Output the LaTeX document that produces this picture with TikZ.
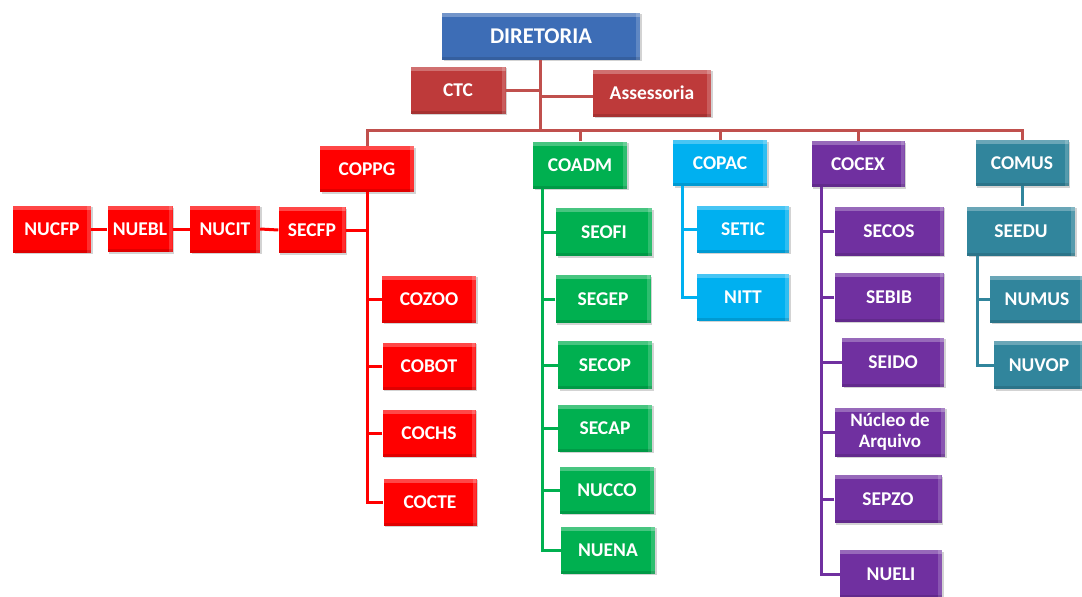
\documentclass[tikz,border=0pt]{standalone}
\usepackage{fontspec}
\setmainfont{Carlito}
\usetikzlibrary{shadows}
\definecolor{dirblue}{RGB}{61,109,182}
\definecolor{ctcred}{RGB}{190,58,58}
\definecolor{ctcline}{RGB}{192,80,77}
\definecolor{cred}{RGB}{255,0,0}
\definecolor{cgreen}{RGB}{0,176,80}
\definecolor{ccyan}{RGB}{0,176,240}
\definecolor{cpurple}{RGB}{112,48,160}
\definecolor{cteal}{RGB}{49,133,156}
\tikzset{
  box/.style={fill=#1, text=white, font=\bfseries\fontsize{19.5}{21}\selectfont,
    inner sep=0pt, align=center,
    drop shadow={opacity=0.35, shadow xshift=1.5pt, shadow yshift=-1.5pt},
    path picture={
      \fill[white,opacity=0.28] (path picture bounding box.north west) rectangle ([yshift=-4pt]path picture bounding box.north east);
      \fill[white,opacity=0.18] ([xshift=-4pt]path picture bounding box.north east) rectangle (path picture bounding box.south east);
      \fill[black,opacity=0.12] (path picture bounding box.south west) rectangle ([yshift=3pt]path picture bounding box.south east);
    }},
  sz/.style 2 args={minimum width=#1pt, minimum height=#2pt},
  conn/.style={draw=#1, line width=3pt},
}
\begin{document}
\begin{tikzpicture}[x=1pt,y=1pt]
\useasboundingbox (0,0) rectangle (1082,-597);
% top
\node[box=dirblue, sz={198}{47}, font=\bfseries\fontsize{22.5}{24}\selectfont] (dir) at (541,-36) {DIRETORIA};
\node[box=ctcred, sz={95}{47}] (ctc) at (458,-90) {CTC};
\node[box=ctcred, sz={118}{47}] (ass) at (652,-93) {Assessoria};
% coordinators
\node[box=cred, sz={94}{46}] (coppg) at (367,-169) {COPPG};
\node[box=cgreen, sz={94}{47}] (coadm) at (580,-165) {COADM};
\node[box=ccyan, sz={94}{46}] (copac) at (720,-163) {COPAC};
\node[box=cpurple, sz={93}{46}] (cocex) at (858,-164) {COCEX};
\node[box=cteal, sz={93}{46}] (comus) at (1022,-163) {COMUS};
% COPPG children
\node[box=cred, sz={78}{47}] (nucfp) at (52,-229) {NUCFP};
\node[box=cred, sz={65}{46}] (nuebl) at (140,-229) {NUEBL};
\node[box=cred, sz={70}{47}] (nucit) at (225,-229) {NUCIT};
\node[box=cred, sz={67}{46}] (secfp) at (312,-230) {SECFP};
\node[box=cred, sz={94}{47}] (cozoo) at (429,-299) {COZOO};
\node[box=cred, sz={93}{47}] (cobot) at (429,-366) {COBOT};
\node[box=cred, sz={93}{47}] (cochs) at (429,-433) {COCHS};
\node[box=cred, sz={93}{47}] (cocte) at (430,-502) {COCTE};
% COADM children
\node[box=cgreen, sz={96}{48}] (seofi) at (604,-232) {SEOFI};
\node[box=cgreen, sz={95}{48}] (segep) at (603,-299) {SEGEP};
\node[box=cgreen, sz={94}{48}] (secop) at (605,-365) {SECOP};
\node[box=cgreen, sz={94}{47}] (secap) at (605,-428) {SECAP};
\node[box=cgreen, sz={94}{47}] (nucco) at (607,-490) {NUCCO};
\node[box=cgreen, sz={94}{47}] (nuena) at (608,-550) {NUENA};
% COPAC children
\node[box=ccyan, sz={92}{47}] (setic) at (743,-229) {SETIC};
\node[box=ccyan, sz={92}{47}] (nitt) at (743,-297) {NITT};
% COCEX children
\node[box=cpurple, sz={109}{49}] (secos) at (889,-231) {SECOS};
\node[box=cpurple, sz={109}{49}] (sebib) at (889,-297) {SEBIB};
\node[box=cpurple, sz={102}{49}] (seido) at (893,-362) {SEIDO};
\node[box=cpurple, sz={110}{49}, font=\bfseries\fontsize{19}{21}\selectfont] (narq) at (890,-432) {Núcleo de\\Arquivo};
\node[box=cpurple, sz={107}{48}] (sepzo) at (888,-499) {SEPZO};
\node[box=cpurple, sz={102}{48}] (nueli) at (891,-574) {NUELI};
% COMUS children
\node[box=cteal, sz={108}{49}] (seedu) at (1021,-231) {SEEDU};
\node[box=cteal, sz={94}{47}] (numus) at (1037,-299) {NUMUS};
\node[box=cteal, sz={90}{48}] (nuvop) at (1039,-365) {NUVOP};

% top connectors
\draw[conn=ctcline] (dir.south) ++(-1,0) coordinate (dtop) -- ++(0,-71) coordinate (bus);
\draw[conn=ctcline] (ctc.east) -- (ctc.east -| dtop);
\draw[conn=ctcline] ([yshift=-3pt]ass.west) -- ([yshift=-3pt]ass.west -| dtop);
\draw[conn=ctcline] (coppg.north) |- (bus) -| (comus.north);
\draw[conn=ctcline] (coadm.north) -- (coadm.north |- bus);
\draw[conn=ctcline] (copac.north) -- (copac.north |- bus);
\draw[conn=ctcline] (cocex.north) -- (cocex.north |- bus);
% COPPG
\draw[conn=cred] (coppg.south) -- (coppg.south |- cocte.west) -- (cocte.west);
\foreach \n in {cozoo,cobot,cochs}
  \draw[conn=cred] (\n.west) -- (\n.west -| coppg.south);
\draw[conn=cred] (nucfp.east) -- (nuebl.west);
\draw[conn=cred] (nuebl.east) -- (nucit.west);
\draw[conn=cred] (nucit.east) -- (secfp.west);
\draw[conn=cred] (secfp.east) -- (secfp.east -| coppg.south);
% COADM
\coordinate (adT) at ([xshift=10pt]coadm.south west);
\draw[conn=cgreen] (adT) |- (nuena.west);
\foreach \n in {seofi,segep,secop,secap,nucco}
  \draw[conn=cgreen] (\n.west) -- (\n.west -| adT);
% COPAC
\coordinate (paT) at ([xshift=10pt]copac.south west);
\draw[conn=ccyan] (paT) |- (nitt.west);
\draw[conn=ccyan] (setic.west) -- (setic.west -| paT);
% COCEX
\coordinate (ceT) at ([xshift=10pt]cocex.south west);
\draw[conn=cpurple] (ceT) |- (nueli.west);
\foreach \n in {secos,sebib,seido,narq,sepzo}
  \draw[conn=cpurple] (\n.west) -- (\n.west -| ceT);
% COMUS
\draw[conn=cteal] (comus.south) -- (comus.south |- seedu.north);
\coordinate (muT) at ([xshift=11pt]seedu.south west);
\draw[conn=cteal] (muT) |- (nuvop.west);
\draw[conn=cteal] (numus.west) -- (numus.west -| muT);
\end{tikzpicture}
\end{document}
